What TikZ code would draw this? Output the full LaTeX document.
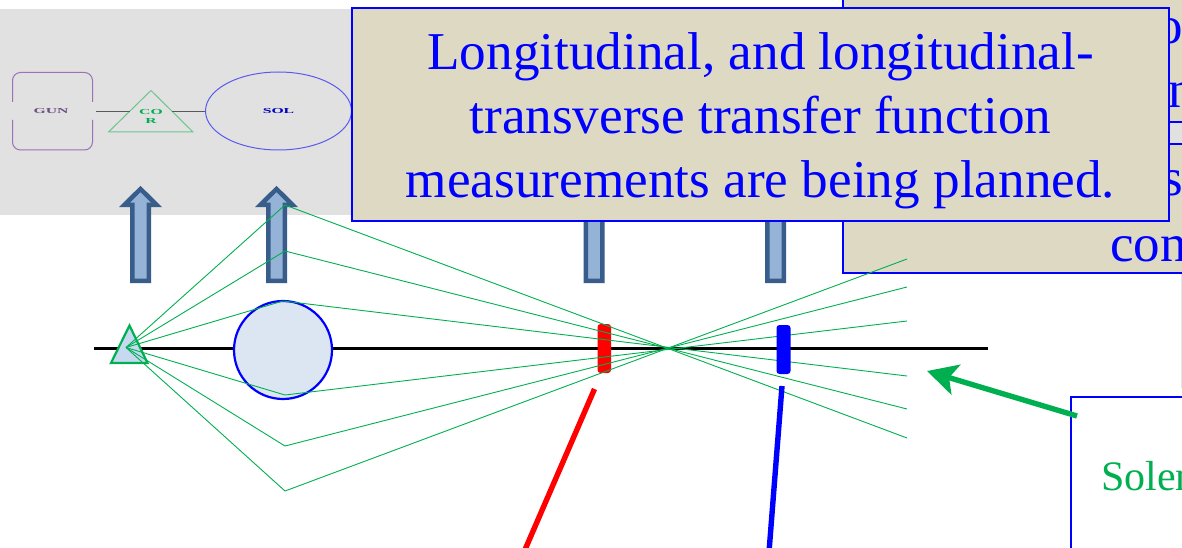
\documentclass[tikz,border=0pt]{standalone}
\usepackage{fontspec}
\setmainfont{Liberation Serif}
\usetikzlibrary{arrows.meta,shapes.geometric}
\definecolor{grn}{HTML}{00B050}
\definecolor{beige}{HTML}{DDD9C3}
\definecolor{greybg}{HTML}{E1E1E1}
\definecolor{arrowfill}{HTML}{95B3D7}
\definecolor{arrowline}{HTML}{385D8A}
\definecolor{puremini}{HTML}{9B72B8}
\definecolor{grnmini}{HTML}{6CC58E}
\definecolor{blumini}{HTML}{5A5AEE}
\definecolor{solfill}{HTML}{DCE6F2}
\definecolor{corfill}{HTML}{C6D9F1}
\definecolor{edgefaint}{HTML}{E4E4EE}
\tikzset{
  beigebox/.style={draw=blue,fill=beige,line width=1.8pt},
  bigtext/.style={text=blue,font=\fontsize{53}{64}\selectfont,inner sep=0pt,anchor=base west},
  upblock/.style={draw=arrowline,fill=arrowfill,line width=4.5pt,miter limit=10},
  ray/.style={draw=grn,line width=0.9pt},
  mini/.style={font=\bfseries\fontsize{8.5}{8}\selectfont,inner sep=0pt,align=center},
  beam/.style={draw=black,line width=2.2pt},
}
\newcommand{\uparrowat}[1]{%
  \path[upblock] (#1-8.25,280.75) -- (#1-8.25,204.75) -- (#1-16,204.75) -- (#1,189) -- (#1+16,204.75) -- (#1+8.25,204.75) -- (#1+8.25,280.75) -- cycle;}
\begin{document}
\begin{tikzpicture}[x=1pt,y=-1pt]
\useasboundingbox (0,0) rectangle (1182,548);
\clip (0,0) rectangle (1182,548);
\fill[white] (0,0) rectangle (1182,548);
% back slide: grey picture panel
\fill[greybg] (0,9) rectangle (1182,215);
\draw[edgefaint,line width=1pt] (1181.5,273) -- (1181.5,388);
% back boxes
\path[beigebox] (843,-5) rectangle (1195,122);
\path[beigebox] (843,144) rectangle (1195,273);
\node[bigtext] (t1) at (1156,44) {o};
\node[bigtext] (t2) at (1168,108) {n};
\node[bigtext] (t3) at (1162,196) {s};
\node[bigtext] (t4) at (1110,261) {con};
% mini diagram
\draw[puremini,line width=1pt,rounded corners=8pt] (12.5,102) -- (12.5,72.5) -- (92.5,72.5) -- (92.5,102);
\draw[puremini,line width=1pt,rounded corners=8pt] (12.5,120) -- (12.5,150) -- (92.5,150) -- (92.5,120);
\node[mini,text=puremini!70!black] (gun) at (51,111) {\scalebox{1.85}[0.9]{GUN}};
\draw[grnmini,line width=1pt] (151,90.5) -- (193,132) -- (108.5,132) -- cycle;
\node[mini,text=grn] (cor) at (151,116.5) {\scalebox{1.85}[0.9]{CO}\\[0.5pt]\scalebox{1.85}[0.9]{R}};
\node[ellipse,draw=blumini,line width=1pt,minimum width=146pt,minimum height=78pt,inner sep=0pt] (solc) at (278.5,111) {};
\node[mini,text=blue!75!black] (sol) at (278.5,111) {\scalebox{1.85}[0.9]{SOL}};
\coordinate (gunr) at (96,111);
\coordinate (corl) at (130,111);
\coordinate (corr) at (172,111);
\draw[black!65,line width=0.8pt] (gunr) -- (corl);
\draw[black!65,line width=0.8pt] (corr) -- (solc.west);
% up arrows
\uparrowat{140.5}
\uparrowat{276.5}
\uparrowat{594}
\uparrowat{775.5}
% beam line
\coordinate (bl) at (94,348.5);
\coordinate (br) at (988,348.5);
\draw[beam] (bl) -- (br);
% solenoid
\node[circle,draw=blue,fill=solfill,line width=2.2pt,minimum size=98pt,inner sep=0pt] (solenoid) at (283,350) {};
% corrector
\draw[grn,line width=2.2pt,fill=corfill] (129.5,325.5) -- (147.5,363) -- (111,363) -- cycle;
% red bar
\fill[red,rounded corners=3pt] (597.5,324) rectangle (611,373);
% rays
\coordinate (src) at (126,347.5);
\foreach \a/\ya/\yb in {285/205/438,285/251/409,283/301/376,285/395/321,285/446/287,285/491/259}{
  \draw[ray] (src) -- (\a,\ya) -- (907,\yb);
}
% blue bar
\fill[blue,rounded corners=3pt] (776.5,325) rectangle (790.5,374);
% pointer lines
\coordinate (rt) at (594.5,389);
\coordinate (rb) at (524,552);
\coordinate (bt) at (782,386);
\coordinate (bb) at (769,552);
\draw[red,line width=5.4pt] (rt) -- (rb);
\draw[blue,line width=5.4pt] (bt) -- (bb);
% front box
\node[draw=blue,fill=beige,line width=1.8pt,minimum width=817pt,minimum height=213pt,inner sep=0pt] (main) at (760.5,114.5) {};
\node[text=blue,font=\fontsize{53.2}{64}\selectfont,align=center,inner sep=0pt,anchor=base] (maintxt) at (760.5,197) {Longitudinal, and longitudinal-\\transverse transfer function\\measurements are being planned.};
% lower right box
\path[draw=blue,fill=white,line width=1.8pt] (1071,397) rectangle (1195,560);
\node[text=grn,font=\fontsize{42}{44}\selectfont,inner sep=0pt,anchor=base west] (solen) at (1101,490) {Solenoid};
% green arrow
\coordinate (gt) at (1077,416);
\coordinate (gh) at (927,371);
\draw[grn,line width=5.4pt,-{Stealth[length=30pt,width=31pt,inset=7pt]}] (gt) -- (gh);
\end{tikzpicture}
\end{document}
